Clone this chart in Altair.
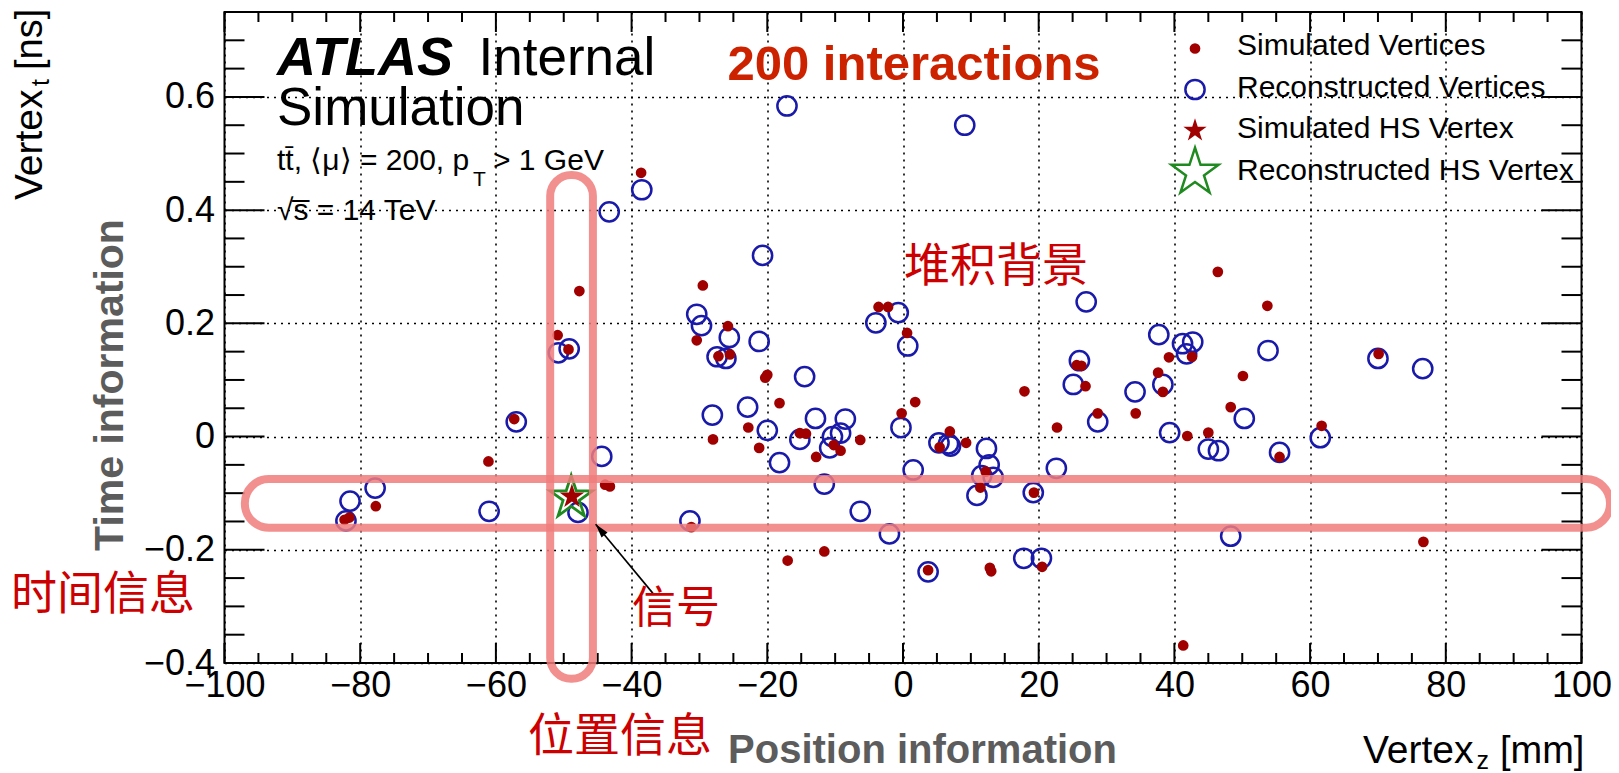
import altair as alt
import pandas as pd

# ---------------- data ----------------
SIM_Z = [-82.3, -81.6, -77.7, -61.1, -57.3, -50.9, -49.3, -47.7, -43.9, -43.2,
         -38.6, -31.2, -29.5, -30.4, -25.8, -27.2, -25.5, -28.0, -22.8, -21.2,
         -20.3, -20.0, -18.2, -17.0, -15.2, -14.3, -12.8, -11.6, -10.2, -9.2,
         -6.3, -3.6, -2.2, 0.6, -0.2, 1.8, 6.9, 5.4, 9.3, 12.2,
         11.4, 3.7, 12.8, 13.0, 17.9, 19.3, 20.5, 22.7, 25.6, 26.3,
         26.9, 28.7, 34.3, 37.6, 38.3, 39.2, 42.6, 41.9, 45.0, 41.3,
         46.4, 48.3, 50.1, 53.7, 55.5, 61.7, 70.1, 76.7]
SIM_T = [-0.147, -0.143, -0.123, -0.044, 0.031, 0.179, 0.154, 0.257, -0.085, -0.088,
         0.466, -0.160, 0.267, 0.170, 0.195, 0.142, 0.145, -0.005, 0.016, -0.020,
         0.104, 0.109, 0.059, -0.219, 0.006, 0.005, -0.036, -0.203, -0.015, -0.025,
         -0.006, 0.229, 0.229, 0.183, 0.041, 0.061, 0.009, -0.019, -0.011, -0.062,
         -0.090, -0.236, -0.232, -0.238, 0.080, -0.099, -0.230, 0.016, 0.126, 0.125,
         0.089, 0.041, 0.041, 0.113, 0.079, 0.140, 0.141, 0.001, 0.007, -0.369,
         0.291, 0.052, 0.107, 0.231, -0.036, 0.019, 0.146, -0.186]

RECO_Z = [-82.1, -81.5, -77.8, -61.0, -57.0, -50.8, -49.2, -47.9, -44.4, -43.3,
          -38.5, -31.4, -30.4, -29.7, -28.1, -27.4, -26.1, -25.6, -22.9, -21.2,
          -20.7, -20.0, -18.2, -17.1, -15.2, -14.5, -12.9, -11.6, -10.8, -10.4,
          -9.2, -8.5, -6.3, -4.0, -2.0, -0.7, 0.7, -0.3, 1.5, 3.7,
          5.3, 6.7, 7.0, 9.1, 12.3, 12.7, 11.6, 13.3, 10.9, 17.8,
          20.4, 19.2, 22.6, 25.1, 26.0, 27.0, 28.7, 34.2, 37.7, 38.3,
          39.3, 41.2, 42.7, 41.8, 45.0, 46.5, 48.3, 50.3, 53.8, 55.5,
          61.5, 70.0, 76.6]
RECO_T = [-0.149, -0.114, -0.091, -0.132, 0.026, 0.148, 0.155, -0.134, -0.035, 0.397,
          0.436, -0.149, 0.216, 0.196, 0.038, 0.141, 0.138, 0.175, 0.052, 0.168,
          0.320, 0.011, -0.046, 0.584, -0.005, 0.106, 0.032, -0.084, -0.020, 0.000,
          0.006, 0.031, -0.132, 0.201, -0.172, 0.219, 0.160, 0.016, -0.059, -0.239,
          -0.011, -0.013, -0.017, 0.550, -0.021, -0.050, -0.069, -0.072, -0.104, -0.215,
          -0.215, -0.099, -0.056, 0.092, 0.134, 0.238, 0.026, 0.079, 0.180, 0.092,
          0.007, 0.164, 0.167, 0.146, -0.022, -0.025, -0.176, 0.032, 0.152, -0.028,
          -0.002, 0.138, 0.120]

HS_SIM_Z, HS_SIM_T = [-48.8], [-0.106]
HS_RECO_Z, HS_RECO_T = [-48.9], [-0.108]

X_MAJOR = [-100, -80, -60, -40, -20, 0, 20, 40, 60, 80, 100]
X_MINOR = [v for v in range(-100, 101, 5) if v % 20 != 0]
Y_MAJOR = [-0.4, -0.2, 0.0, 0.2, 0.4, 0.6]
Y_MINOR = [-0.35, -0.3, -0.25, -0.15, -0.1, -0.05, 0.05, 0.1, 0.15, 0.25,
           0.3, 0.35, 0.45, 0.5, 0.55, 0.65, 0.7]

LEGEND_LABELS = ["Simulated Vertices", "Reconstructed Vertices",
                 "Simulated HS Vertex", "Reconstructed HS Vertex"]

# highlighted bands (data coordinates)
HBAND = {"x1": [-97.0], "x2": [104.2], "y1": [-0.075], "y2": [-0.161]}
VBAND = {"x1": [-52.0], "x2": [-45.7], "y1": [0.462], "y2": [-0.428]}
ARROW = {"x1": [-36.85], "y1": [-0.277], "x2": [-45.3], "y2": [-0.155]}

# ---------------- styling ----------------
W, H = 1357, 651
XS = alt.Scale(domain=[-100, 100], nice=False, zero=False)
YS = alt.Scale(domain=[-0.4, 0.75], nice=False, zero=False)
FONT = "Liberation Sans"
CJK = "Noto Sans CJK SC"
RED = "#a00000"
BLUE = "#1a1aaa"
GREEN = "#1f8a1f"
PINK = "#f07c7c"
STAR = ("M0,-1L0.2245,-0.309L0.951,-0.309L0.363,0.118L0.588,0.809L0,0.382"
        "L-0.588,0.809L-0.363,0.118L-0.951,-0.309L-0.2245,-0.309Z")
HEAD = "M0,0L0.45,1.6L-0.45,1.6Z"

def X(f, **kw):
    return alt.X(f + ":Q", scale=XS, title=None, **kw)

def Y(f, **kw):
    return alt.Y(f + ":Q", scale=YS, title=None, **kw)

sim = pd.DataFrame({"z": SIM_Z, "t": SIM_T})
reco = pd.DataFrame({"z": RECO_Z, "t": RECO_T})

layers = []

# reconstructed vertices (open circles) — carries the axes
layers.append(
    alt.Chart(reco).mark_point(shape="circle", filled=False, stroke=BLUE,
                               strokeWidth=2.5, size=370, opacity=1)
    .encode(
        x=X("z", axis=alt.Axis(values=X_MAJOR, format="d", labelPadding=5,
                               labelFontSize=36, labelFlush=False,
                               labelOverlap=False)),
        y=Y("t", axis=alt.Axis(values=Y_MAJOR, format="~g", labelPadding=10,
                               labelFontSize=36, labelFlush=False,
                               labelOverlap=False)),
    )
)

# simulated vertices (filled dots)
layers.append(
    alt.Chart(sim).mark_circle(color=RED, size=115, opacity=1)
    .encode(x=X("z"), y=Y("t"))
)

# inward ticks on all four sides
def xticks(vals, length):
    d = pd.DataFrame({"z": vals})
    b = alt.Chart(d).mark_rule(color="black", strokeWidth=2).encode(
        x=X("z"), y=alt.value(H), y2=alt.value(H - length))
    t = alt.Chart(d).mark_rule(color="black", strokeWidth=2).encode(
        x=X("z"), y=alt.value(0), y2=alt.value(length))
    return [b, t]

def yticks(vals, length):
    d = pd.DataFrame({"t": vals})
    l = alt.Chart(d).mark_rule(color="black", strokeWidth=2).encode(
        y=Y("t"), x=alt.value(0), x2=alt.value(length))
    r = alt.Chart(d).mark_rule(color="black", strokeWidth=2).encode(
        y=Y("t"), x=alt.value(W), x2=alt.value(W - length))
    return [l, r]

layers += xticks(X_MAJOR, 20) + xticks(X_MINOR, 10)
layers += yticks(Y_MAJOR, 40) + yticks(Y_MINOR, 20)

# HS vertices (stars)
layers.append(
    alt.Chart(pd.DataFrame({"z": HS_SIM_Z, "t": HS_SIM_T}))
    .mark_point(shape=STAR, filled=True, color=RED, size=680, opacity=1)
    .encode(x=X("z"), y=Y("t"))
)
layers.append(
    alt.Chart(pd.DataFrame({"z": HS_RECO_Z, "t": HS_RECO_T}))
    .mark_point(shape=STAR, filled=False, stroke=GREEN, strokeWidth=2.8,
                size=2000, opacity=1)
    .encode(x=X("z"), y=Y("t"))
)

# highlight bands
for band, rad in ((HBAND, 24), (VBAND, 21)):
    layers.append(
        alt.Chart(pd.DataFrame(band)).mark_rect(
            fill="transparent", stroke=PINK, strokeWidth=8, strokeOpacity=0.85,
            cornerRadius=rad)
        .encode(x=X("x1"), x2="x2:Q", y=Y("y1"), y2="y2:Q")
    )

# arrow to the signal vertex
arrow = pd.DataFrame(ARROW)
layers.append(
    alt.Chart(arrow).mark_rule(color="black", strokeWidth=1.6)
    .encode(x=X("x1"), y=Y("y1"), x2="x2:Q", y2="y2:Q")
)
layers.append(
    alt.Chart(arrow).mark_point(shape=HEAD, filled=True, color="black",
                                size=300, angle=320, opacity=1)
    .encode(x=X("x2"), y=Y("y2"))
)

# text helper (pixel positions relative to the plot area)
def txt(s, x, y, size, align="left", baseline="alphabetic", font=FONT, **kw):
    return alt.Chart(pd.DataFrame({"s": [s]})).mark_text(
        fontSize=size, font=font, align=align, baseline=baseline, **kw
    ).encode(x=alt.value(x), y=alt.value(y), text="s:N")

# ATLAS label block
layers.append(txt("ATLAS", 52.5, 63, 54, fontWeight="bold", fontStyle="italic", color="black"))
layers.append(txt("Internal", 254, 63, 53, color="black"))
layers.append(txt("Simulation", 52.5, 113, 53, color="black"))
layers.append(txt("tt\u0304, \u27e8\u03bc\u27e9 = 200, p", 52.5, 158, 30, color="black"))
layers.append(txt("T", 248.5, 174, 21, color="black"))
layers.append(txt("> 1 GeV", 268.5, 158, 30, color="black"))
layers.append(txt("\u221as\u0305 = 14 TeV", 52.5, 208, 30, color="black"))

layers.append(txt("200 interactions", 503, 68, 49, fontWeight="bold", color="#cc2200"))

# legend
LX, TX = 970.5, 1012.5
layers.append(alt.Chart(pd.DataFrame({"s": [LEGEND_LABELS[0]]})).mark_circle(
    color=RED, size=115, opacity=1).encode(x=alt.value(LX), y=alt.value(36.5)))
layers.append(alt.Chart(pd.DataFrame({"s": [LEGEND_LABELS[1]]})).mark_point(
    shape="circle", filled=False, stroke=BLUE, strokeWidth=2.5, size=370, opacity=1
).encode(x=alt.value(LX), y=alt.value(77.5)))
layers.append(alt.Chart(pd.DataFrame({"s": [LEGEND_LABELS[2]]})).mark_point(
    shape=STAR, filled=True, color=RED, size=600, opacity=1
).encode(x=alt.value(LX), y=alt.value(118.5)))
layers.append(alt.Chart(pd.DataFrame({"s": [LEGEND_LABELS[3]]})).mark_point(
    shape=STAR, filled=False, stroke=GREEN, strokeWidth=2.5, size=2450, opacity=1
).encode(x=alt.value(LX), y=alt.value(160.5)))
for lab, by in zip(LEGEND_LABELS, [43, 85, 126, 168]):
    layers.append(txt(lab, TX, by, 30, color="black"))

# axis titles (with sub-scripts)
layers.append(txt("Vertex", -182.5, 188, 39, angle=270, color="black"))
layers.append(txt("t", -175.5, 74, 25, angle=270, color="black"))
layers.append(txt("[ns]", -182.5, 58, 38, angle=270, color="black"))
layers.append(txt("Vertex", 1138.5, 751, 39, color="black"))
layers.append(txt("z", 1252, 757, 25, color="black"))
layers.append(txt("[mm]", 1275.5, 751, 38, color="black"))

# grey annotation titles
layers.append(txt("Time information", -113.5, 373, 41, align="center", baseline="middle",
                  angle=270, fontWeight="bold", color="#5c5c5c"))
layers.append(txt("Position information", 698, 751, 40, align="center",
                  fontWeight="bold", color="#5c5c5c"))

# Chinese annotations
CN_RED = "#cc0000"
layers.append(txt("堆积背景", 771.5, 255, 46, align="center", baseline="middle", font=CJK, color=CN_RED))
layers.append(txt("时间信息", -121.5, 583, 46, align="center", baseline="middle", font=CJK, color=CN_RED))
layers.append(txt("信号", 451.5, 598, 44, align="center", baseline="middle", font=CJK, color=CN_RED))
layers.append(txt("位置信息", 395.5, 725, 46, align="center", baseline="middle", font=CJK, color=CN_RED))

chart = alt.layer(*layers).properties(
    width=W, height=H,
    autosize=alt.AutoSizeParams(type="none"),
    padding={"left": 216.5, "top": 4, "right": 29.5, "bottom": 108},
    background="white",
).configure_view(
    stroke="black", strokeWidth=2
).configure_axis(
    domain=False, ticks=False, grid=True, gridColor="black", gridDash=[2, 5],
    gridWidth=1.6, gridOpacity=1, labelFont=FONT, labelColor="black",
    labelFontSize=36
)

chart.save("out.html", embed_options={"renderer": "svg", "actions": False})
